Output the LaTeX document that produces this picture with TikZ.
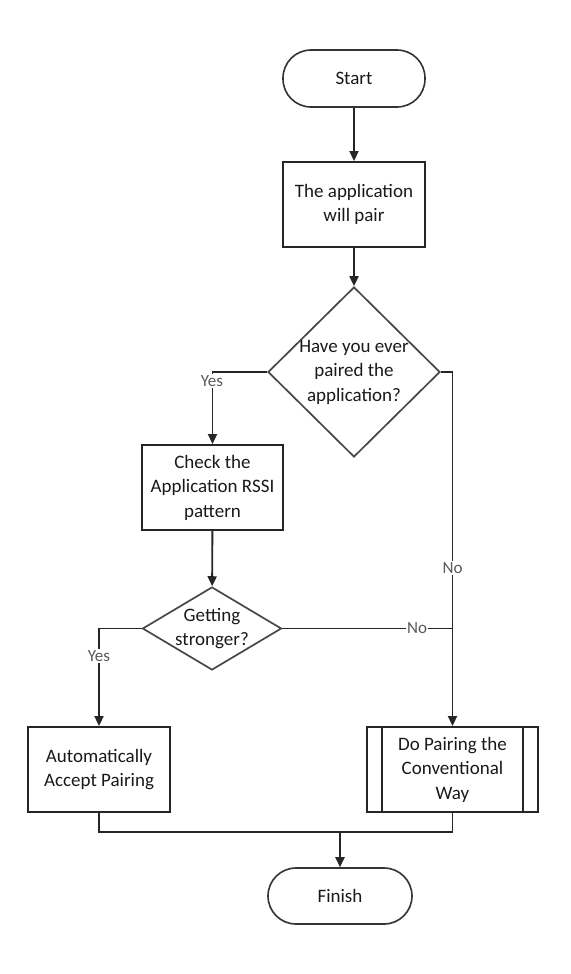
\documentclass[tikz,border=0pt]{standalone}
\usepackage{fontspec}
\setmainfont{Carlito}
\usetikzlibrary{shapes.geometric,arrows.meta}
\begin{document}
\begin{tikzpicture}[x=1pt,y=-1pt,
  every node/.style={font=\fontsize{19}{24.5}\selectfont, text=black!90, align=center},
  line/.style={draw=black!85, line width=1.9pt},
  arr/.style={line, -{Triangle[length=10pt,width=9pt]}},
  term/.style={draw=black!80, line width=1.6pt, rounded corners=28pt, minimum width=142pt, minimum height=57pt, inner sep=0pt},
  procbox/.style={draw=black!85, line width=1.9pt, minimum width=142pt, minimum height=85pt, inner sep=0pt},
  dec/.style={diamond, draw=black!72, line width=1.7pt, inner sep=0pt},
  lbl/.style={font=\fontsize{17}{20}\selectfont, text=black!65, fill=white, inner sep=1pt}
]
\useasboundingbox (0,0) rectangle (570,974);

% nodes
\node[term] (start) at (354,78.5) {Start};
\node[procbox] (pair) at (354,204.5) {The application\\will pair};
\node[dec, minimum width=172pt, minimum height=170pt] (d1) at (354,372) {};
\node (d1t) at (d1.center) {Have you ever\\paired the\\application?};
\node[procbox, minimum width=141pt] (rssi) at (212.5,487.5) {Check the\\Application RSSI\\pattern};
\node[dec, minimum width=139pt, minimum height=83pt] (d2) at (212,628.5) {};
\node (d2t) at (d2.center) {Getting\\stronger?};
\node[procbox] (auto) at (99,769.5) {Automatically\\Accept Pairing};
\node[procbox, minimum width=171pt] (conv) at (452.5,769.5) {Do Pairing the\\Conventional\\Way};
\draw[line] ([xshift=16pt]conv.north west) -- ([xshift=16pt]conv.south west);
\draw[line] ([xshift=-16pt]conv.north east) -- ([xshift=-16pt]conv.south east);
\node[term, minimum width=144pt, minimum height=56pt] (finish) at (340,896) {Finish};
\coordinate (merge) at (340,832);

% connectors
\draw[arr] (start) -- (pair);
\draw[arr] (pair) -- (d1);
\draw[arr] (d1.west) -| (rssi.north);
\draw[arr] (d1.east) -| (conv.north);
\draw[arr] (rssi) -- (d2);
\draw[arr] (d2.west) -| (auto.north);
\draw[line] (d2.east) -- (d2.east -| conv.north);
\draw[line] (auto.south) |- (merge) -| (conv.south);
\draw[arr] (merge) -- (finish.north);

% labels
\node[lbl] (yes1) at (212,381) {Yes};
\node[lbl] (no1) at (452.5,568) {No};
\node[lbl] (no2) at (417,628.5) {No};
\node[lbl] (yes2) at (99,656) {Yes};
\end{tikzpicture}
\end{document}
